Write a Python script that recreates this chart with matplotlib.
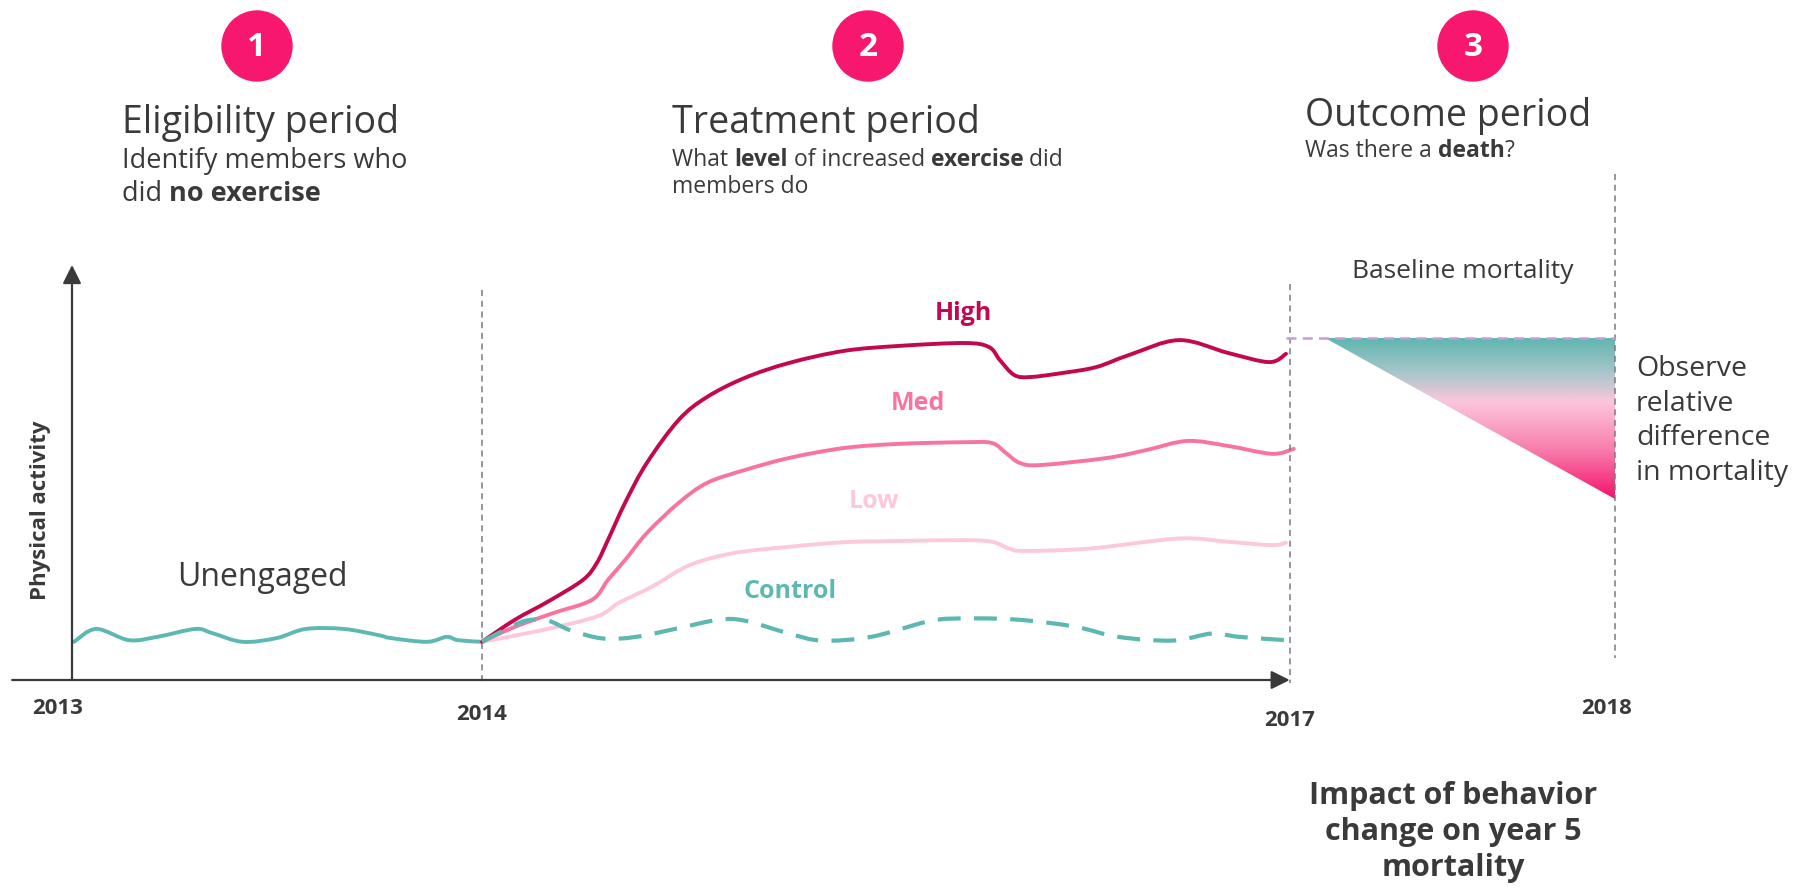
import numpy as np
import matplotlib
matplotlib.use("Agg")
import matplotlib.pyplot as plt
from matplotlib import transforms
from matplotlib.patches import Circle, Polygon, PathPatch
from matplotlib.path import Path
from matplotlib.colors import LinearSegmentedColormap

plt.rcParams['font.family'] = ['Open Sans', 'DejaVu Sans']

W, H = 1816, 889
INK = '#3a3a3a'
TEAL = '#5cb8b1'
HIGH_C = '#c4084f'
MED_C = '#f8749f'
LOW_C = '#fdc8db'
DOT_C = '#f7176f'

# schematic timeline: 2013 -> 0, 2014 -> 1, 2017 -> 2.97, 2018 -> 3.76
years = ['2013', '2014', '2017', '2018']
year_pos = [0.0, 1.0, 2.97, 3.763]

# unengaged members during the eligibility period
base_t = [0.005, 0.059, 0.139, 0.208, 0.301, 0.342, 0.416, 0.499, 0.570,
          0.663, 0.748, 0.778, 0.866, 0.914, 0.941, 1.0]
base_a = [9.2, 12.3, 9.6, 10.4, 12.3, 11.3, 9.2, 10.1, 12.3, 12.3, 10.8,
          10.1, 9.2, 10.4, 9.6, 9.2]

# treatment period, by level of increased exercise
high_t = [1.0, 1.080, 1.161, 1.246, 1.280, 1.307, 1.349, 1.402, 1.480, 1.549,
          1.641, 1.749, 1.883, 2.017, 2.178, 2.237, 2.263, 2.298, 2.337,
          2.417, 2.498, 2.578, 2.700, 2.820, 2.920, 2.961]
high_a = [9.2, 14.5, 18.9, 24.1, 28.2, 33.7, 42.7, 52.3, 62.7, 68.2, 72.8,
          76.4, 79.3, 80.5, 81.2, 80.2, 77.1, 73.5, 73.0, 74.0, 75.4, 78.3,
          81.9, 78.8, 76.6, 78.6]

med_t = [1.0, 1.080, 1.173, 1.268, 1.307, 1.349, 1.402, 1.480, 1.549, 1.641,
         1.749, 1.883, 2.017, 2.178, 2.244, 2.278, 2.312, 2.363, 2.524, 2.620,
         2.720, 2.820, 2.927, 2.980]
med_a = [9.2, 12.8, 16.1, 19.3, 24.1, 28.9, 35.4, 42.7, 47.5, 50.6, 53.5,
         55.9, 56.9, 57.3, 57.1, 54.7, 52.3, 51.8, 53.5, 55.4, 57.6, 56.4,
         54.5, 55.7]

low_t = [1.0, 1.146, 1.280, 1.334, 1.415, 1.507, 1.615, 1.749, 1.883, 2.017,
         2.178, 2.244, 2.285, 2.324, 2.485, 2.700, 2.820, 2.927, 2.961]
low_a = [9.2, 12.0, 15.3, 18.6, 22.5, 27.7, 30.6, 32.1, 33.2, 33.5, 33.7,
         33.3, 31.7, 31.1, 31.7, 34.1, 33.3, 32.5, 33.1]

ctrl_t = [1.0, 1.054, 1.107, 1.161, 1.215, 1.295, 1.376, 1.480, 1.576, 1.641,
          1.749, 1.829, 1.949, 2.083, 2.151, 2.298, 2.444, 2.551, 2.685,
          2.780, 2.846, 2.961]
ctrl_a = [9.2, 12.0, 14.3, 14.3, 12.0, 10.0, 10.4, 12.5, 14.5, 14.3, 11.2,
          9.5, 10.4, 14.0, 14.8, 14.6, 12.9, 10.4, 9.5, 11.2, 10.4, 9.6]

# outcome period: baseline mortality vs. observed mortality at year 5
mort_start = 3.056
baseline_mort = 82.4
observed_mort = 43.6

fig = plt.figure(figsize=(W / 100, H / 100), dpi=100)
ax = fig.add_axes([0, 0, 1, 1])
ax.set_axis_off()
# pixel space (origin top-left) for the annotations
px = transforms.Affine2D().scale(1 / W, -1 / H).translate(0, 1) + fig.transFigure


def smooth_curve(t, a, **kw):
    # catmull-rom through the points, drawn as cubic bezier segments
    p = np.column_stack([t, a])
    ext = np.vstack([p[0], p, p[-1]])
    verts, codes = [p[0]], [Path.MOVETO]
    for i in range(1, len(ext) - 2):
        p0, p1, p2, p3 = ext[i - 1], ext[i], ext[i + 1], ext[i + 2]
        verts += [p1 + (p2 - p0) / 6, p2 - (p3 - p1) / 6, p2]
        codes += [Path.CURVE4] * 3
    patch = PathPatch(Path(verts, codes), fill=False, **kw)
    ax.add_patch(patch)
    return patch


# axes with arrow heads
arrow = dict(arrowstyle='-|>', lw=1.6, color=INK, mutation_scale=28,
             shrinkA=0, shrinkB=0)
ax.annotate('', xy=(0, 100), xytext=(0, 0), arrowprops=arrow)
ax.annotate('', xy=(year_pos[2], 0), xytext=(-0.146, 0), arrowprops=arrow)

# period boundaries
vl = dict(color='#7a7a7a', lw=1.1, ls=(0, (4, 3)))
ax.plot([year_pos[1]] * 2, [94, -0.8], **vl)
ax.plot([year_pos[2]] * 2, [95.4, -0.8], **vl)
ax.plot([year_pos[3]] * 2, [122, 5.3], **vl)

# activity curves
line = dict(lw=2.8, capstyle='round', joinstyle='round')
smooth_curve(base_t, base_a, ec=TEAL, **line)
smooth_curve(low_t, low_a, ec=LOW_C, **line)
smooth_curve(med_t, med_a, ec=MED_C, **line)
smooth_curve(high_t, high_a, ec=HIGH_C, **line)
smooth_curve(ctrl_t, ctrl_a, ec=TEAL, lw=3.0, ls=(0, (5.5, 3.2)))

# mortality gap: gradient triangle below the baseline
ax.plot([year_pos[2] - 0.01, year_pos[3]], [baseline_mort] * 2,
        color='#c79be0', lw=1.8, ls=(0, (4, 2.5)))
tri = Polygon([(mort_start, baseline_mort), (year_pos[3], baseline_mort),
               (year_pos[3], observed_mort)], closed=True, fc='none', ec='none')
ax.add_patch(tri)
grad = LinearSegmentedColormap.from_list(
    'gap', [(0, '#5db6ae'), (0.22, '#a9c6cb'), (0.4, '#fcc6dc'),
            (0.7, '#f87cab'), (1, '#f5116b')])
img = ax.imshow(np.linspace(0, 1, 256).reshape(-1, 1), cmap=grad, aspect='auto',
                extent=[mort_start, year_pos[3], observed_mort, baseline_mort],
                origin='upper', interpolation='bilinear')
img.set_clip_path(tri)

ax.set_xlim(-72 / 410, (W - 72) / 410)
ax.set_ylim((680 - H) / 4.15, 680 / 4.15)

# numbered step markers
for num, cx in zip(['1', '2', '3'], [257, 868, 1473]):
    ax.add_patch(Circle((cx, 46), 35, transform=px, color=DOT_C))
    ax.text(cx, 48, num, transform=px, color='white', fontsize=24,
            fontweight='bold', ha='center', va='center')

renderer = fig.canvas.get_renderer()


def rich(x, y, parts, size):
    for s, w in parts:
        t = ax.text(x, y, s, transform=px, fontsize=size, fontweight=w,
                    color=INK, va='baseline', ha='left')
        x = t.get_window_extent(renderer).x1


rich(122, 133, [('Eligibility period', 'normal')], 27)
rich(122, 168, [('Identify members who', 'normal')], 19.5)
rich(122, 201, [('did ', 'normal'), ('no exercise', 'bold')], 19.5)

rich(672, 133, [('Treatment period', 'normal')], 27)
rich(672, 166, [('What ', 'normal'), ('level', 'bold'), (' of increased ', 'normal'),
                ('exercise', 'bold'), (' did', 'normal')], 16.5)
rich(672, 193, [('members do', 'normal')], 16.5)

rich(1305, 126, [('Outcome period', 'normal')], 27)
rich(1305, 157, [('Was there a ', 'normal'), ('death', 'bold'), ('?', 'normal')], 16.5)

ax.text(1463, 271, 'Baseline mortality', transform=px, fontsize=19,
        color=INK, ha='center', va='center')
ax.text(1636, 421, 'Observe\nrelative\ndifference\nin mortality', transform=px,
        fontsize=20.5, color=INK, ha='left', va='center', linespacing=1.33)
ax.text(262, 577, 'Unengaged', transform=px, fontsize=23,
        color=INK, ha='center', va='center')

# series labels
for lab, c, (lx, ly) in zip(['High', 'Med', 'Low', 'Control'],
                            [HIGH_C, MED_C, LOW_C, TEAL],
                            [(963, 313), (918, 404), (874, 502), (790, 592)]):
    ax.text(lx, ly, lab, transform=px, fontsize=18, fontweight='bold', color=c,
            ha='center', va='center')

# year labels
for yr, ly, xp in zip(years, [709, 715, 721, 708], year_pos):
    ax.text(72 + 410 * xp - 14 * (yr == '2013') - 8 * (yr == '2018'), ly, yr,
            transform=px, fontsize=16, fontweight='bold', color=INK,
            ha='center', va='center')

ax.text(41, 510, 'Physical activity', transform=px, rotation=90, fontsize=16,
        fontweight='bold', color=INK, ha='center', va='center')

ax.text(1453, 832, 'Impact of behavior\nchange on year 5\nmortality', transform=px,
        fontsize=22, fontweight='bold', color=INK, ha='center', va='center',
        linespacing=1.25)

fig.savefig('out.png', dpi=100)
